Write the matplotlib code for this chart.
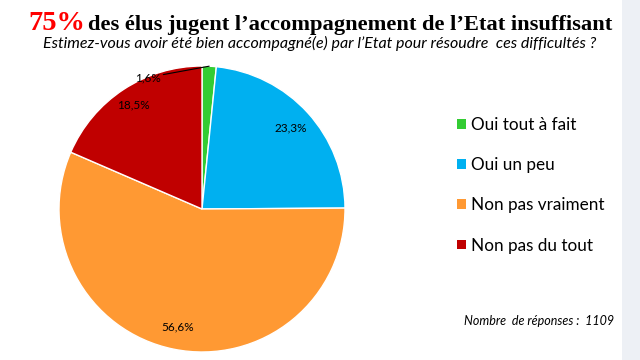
import numpy as np
import matplotlib.pyplot as plt
from matplotlib.patches import Patch, Rectangle

# données
categories = ["Oui tout à fait", "Oui un peu", "Non pas vraiment", "Non pas du tout"]
values = [1.6, 23.3, 56.6, 18.5]
colors = ["#33CC33", "#00B0F0", "#FF9933", "#C00000"]
n_reponses = 1109

fig = plt.figure(figsize=(6.4, 3.6), dpi=100)
fig.patch.set_facecolor("white")

# bande grise à droite
fig.patches.append(Rectangle((0.972, 0), 0.028, 1, transform=fig.transFigure,
                             facecolor="#EDF0F5", edgecolor="none", zorder=0))

# --- camembert ---
lim = 1.05
cx, cy, r = 202, 209, 143
w = 2 * r * lim
ax = fig.add_axes([(cx - r * lim) / 640, (360 - cy - r * lim) / 360, w / 640, w / 360])
wedges, _ = ax.pie(values, colors=colors, startangle=90, counterclock=False,
                   wedgeprops=dict(edgecolor="white", linewidth=1))
ax.set_xlim(-lim, lim)
ax.set_ylim(-lim, lim)
ax.set_aspect("auto")

fmt = lambda v: f"{v:.1f}%".replace(".", ",")
for i, (wd, v) in enumerate(zip(wedges, values)):
    ang = np.deg2rad((wd.theta1 + wd.theta2) / 2)
    if i == 0:
        ax.annotate(fmt(v), xy=(np.cos(ang), np.sin(ang)), xytext=(-0.29, 0.92),
                    ha="right", va="center", fontsize=8.5, family="Lato",
                    arrowprops=dict(arrowstyle="-", color="black", lw=0.8,
                                    shrinkA=0, shrinkB=0))
    else:
        d = 0.87 if i == 3 else 0.84
        ax.text(d * np.cos(ang), d * np.sin(ang), fmt(v), ha="center", va="center",
                fontsize=8.5, family="Lato")

# --- légende ---
handles = [Patch(facecolor=c, edgecolor="none") for c in colors]
fig.legend(handles, categories, loc="upper left", bbox_to_anchor=(0.69, 0.718),
           frameon=False, prop=dict(family="Lato", size=12.3),
           handlelength=0.5, handleheight=0.5, handletextpad=0.35, labelspacing=1.42)

# --- titres ---
fig.text(28 / 640, 1 - 30 / 360, "75%", color="#FF0000", fontsize=20.5, fontweight="bold",
         family="Liberation Serif", ha="left", va="baseline")
fig.text(88 / 640, 1 - 30 / 360, "des élus jugent l\u2019accompagnement de l\u2019Etat insuffisant",
         color="black", fontsize=16.2, fontweight="bold", family="Liberation Serif",
         ha="left", va="baseline")
fig.text(320 / 640, 1 - 43 / 360,
         "Estimez-vous avoir été bien accompagné(e) par l\u2019Etat pour résoudre  ces difficultés ?",
         fontsize=11.5, style="italic", family="Lato", ha="center", va="center")
fig.text(614 / 640, 1 - 321 / 360, f"Nombre  de réponses :  {n_reponses}",
         fontsize=9, style="italic", family="Lato", ha="right", va="center")

fig.savefig("out.png", dpi=100)
